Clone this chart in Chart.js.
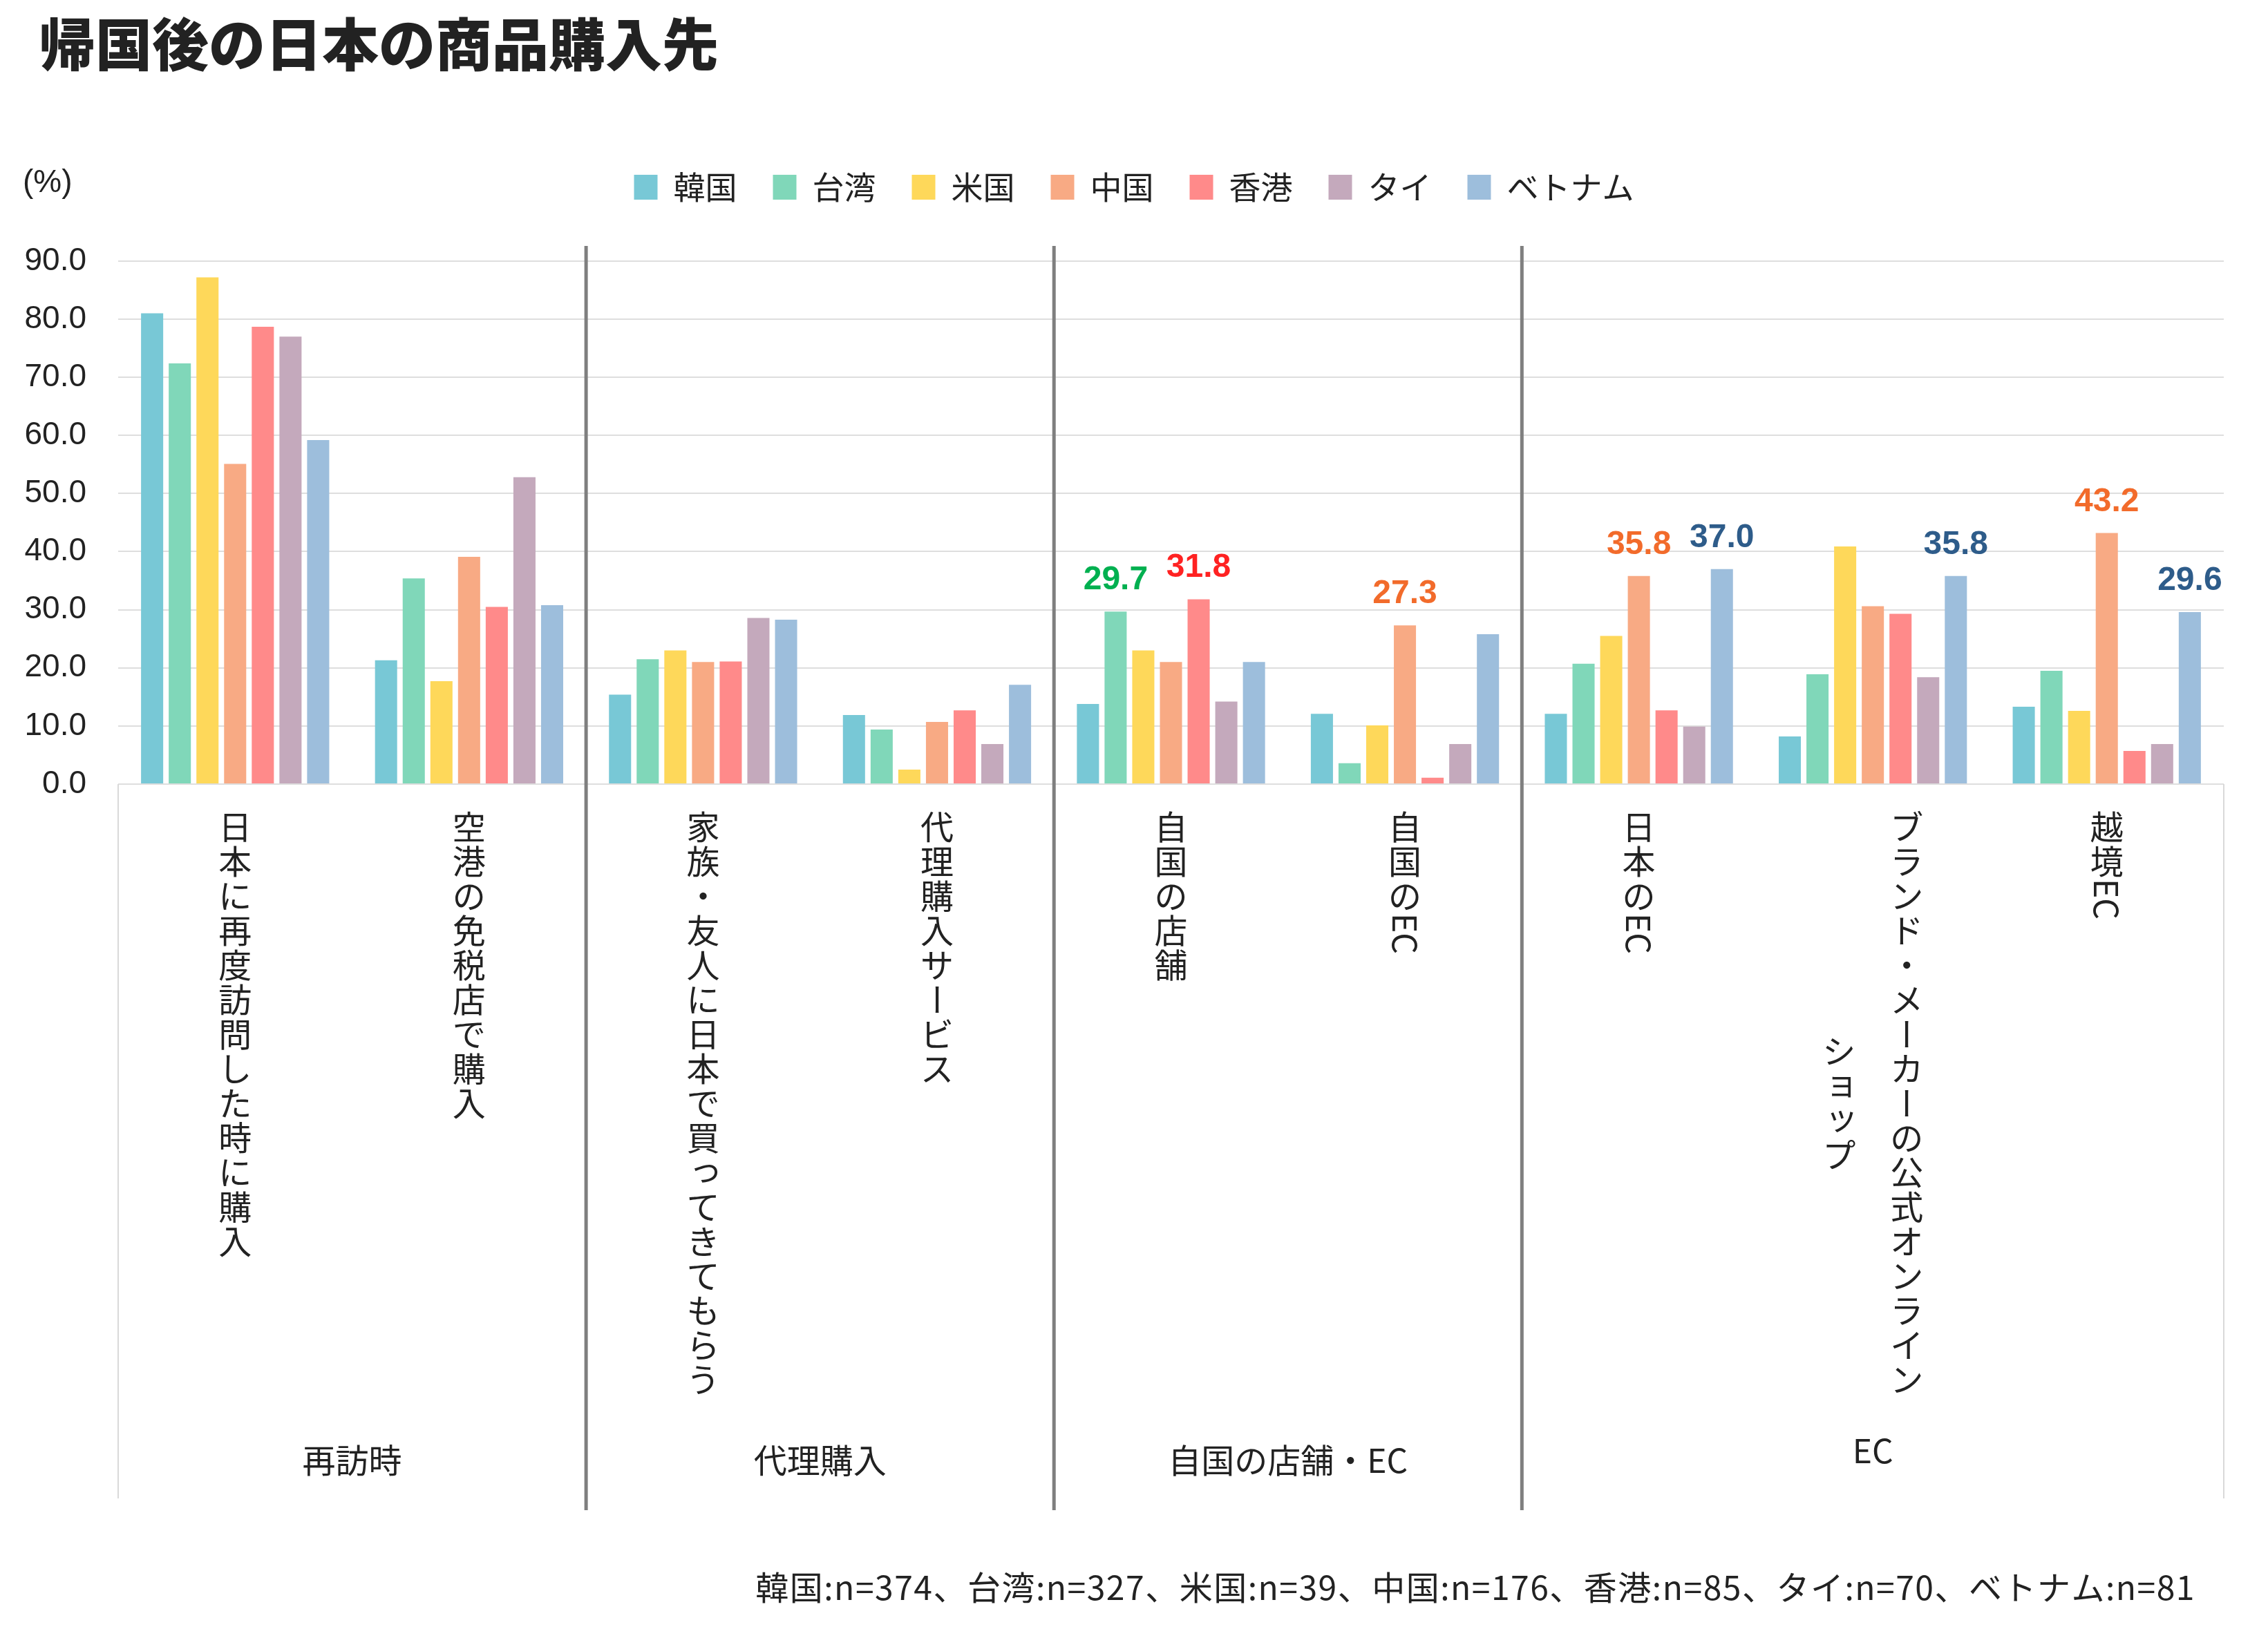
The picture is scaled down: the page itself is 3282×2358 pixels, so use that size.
<!DOCTYPE html>
<html lang="ja">
<head>
<meta charset="utf-8">
<title>帰国後の日本の商品購入先</title>
<script src="https://cdn.jsdelivr.net/npm/chart.js@4.4.1/dist/chart.umd.min.js"></script>
<style>
  html, body { margin: 0; padding: 0; background: #ffffff; }
  #wrap { width: 3282px; height: 2358px; }
</style>
</head>
<body>
<div id="wrap"><canvas id="chart" width="3282" height="2358"></canvas></div>
<script>
// --- DATA ---
const categories = [
  ['日本に再度訪問した時に購入'],
  ['空港の免税店で購入'],
  ['家族・友人に日本で買ってきてもらう'],
  ['代理購入サービス'],
  ['自国の店舗'],
  ['自国のEC'],
  ['日本のEC'],
  ['ブランド・メーカーの公式オンライン', 'ショップ'],
  ['越境EC']
];
const groups = ['再訪時', '代理購入', '自国の店舗・EC', 'EC'];
const groupSpans = [2, 2, 2, 3];
const countries = ['韓国', '台湾', '米国', '中国', '香港', 'タイ', 'ベトナム'];

const korea    = [81.0, 21.3, 15.4, 11.9, 13.8, 12.1, 12.1,  8.2, 13.3];
const taiwan   = [72.4, 35.4, 21.5,  9.4, 29.7,  3.6, 20.7, 18.9, 19.5];
const usa      = [87.2, 17.7, 23.0,  2.5, 23.0, 10.1, 25.5, 40.9, 12.6];
const china    = [55.1, 39.1, 21.0, 10.7, 21.0, 27.3, 35.8, 30.6, 43.2];
const hongkong = [78.7, 30.5, 21.1, 12.7, 31.8,  1.1, 12.7, 29.3,  5.7];
const thai     = [77.0, 52.8, 28.6,  6.9, 14.2,  6.9,  9.9, 18.4,  6.9];
const vietnam  = [59.2, 30.8, 28.3, 17.1, 21.0, 25.8, 37.0, 35.8, 29.6];

const yTicks = [0, 10, 20, 30, 40, 50, 60, 70, 80, 90];

// bars that carry a value label: [country index, category index]
const labeledBars = [[1, 4], [4, 4], [3, 5], [3, 6], [6, 6], [6, 7], [3, 8], [6, 8]];

const sampleNote = '韓国:n=374、台湾:n=327、米国:n=39、中国:n=176、香港:n=85、タイ:n=70、ベトナム:n=81';

// --- STYLE ---
const seriesValues = [korea, taiwan, usa, china, hongkong, thai, vietnam];
const barColors = ['#78c8d6', '#80d7b9', '#fed85a', '#f8aa84', '#ff8a8a', '#c4a9bc', '#9dbedc'];
const valueColors = ['#2e5c8a', '#00b050', '#c09000', '#f26b2b', '#ff2222', '#7a5c72', '#2e5c8a'];
const JP = '"Noto Sans CJK JP", "Noto Sans", sans-serif';
const NUM = '"Liberation Sans", Arial, sans-serif';
const TEXT = '#222222';
const FS = 48;      // vertical label font size
const PITCH = 50;   // vertical advance per character

// draw one vertical column (top to bottom), latin runs turned sideways
function columnLength(ctx, text) {
  let len = 0;
  text.match(/[A-Za-z0-9]+|[^A-Za-z0-9]/g).forEach(run => {
    len += /^[A-Za-z0-9]/.test(run) ? ctx.measureText(run).width : PITCH;
  });
  return len;
}
function drawColumn(ctx, text, cx, top) {
  let y = top;
  text.match(/[A-Za-z0-9]+|[^A-Za-z0-9]/g).forEach(run => {
    if (/^[A-Za-z0-9]/.test(run)) {
      const w = ctx.measureText(run).width;
      ctx.save();
      ctx.translate(cx, y + w / 2);
      ctx.rotate(Math.PI / 2);
      ctx.fillText(run, 0, 0);
      ctx.restore();
      y += w;
    } else if (run === 'ー') {
      ctx.save();
      ctx.translate(cx, y + PITCH / 2);
      ctx.rotate(Math.PI / 2);
      ctx.fillText(run, 0, 0);
      ctx.restore();
      y += PITCH;
    } else {
      const small = 'っッョャュゃゅょ'.includes(run);
      ctx.fillText(run, cx + (small ? FS * 0.08 : 0), y + PITCH / 2 - (small ? FS * 0.1 : 0));
      y += PITCH;
    }
  });
}

const decorPlugin = {
  id: 'decor',
  afterInit(chart) {
    // extra room between legend and plot
    const lg = chart.legend;
    const fit = lg.fit.bind(lg);
    lg.fit = function() { fit(); this.height += 52; };
  },
  afterDatasetsDraw(chart) {
    const ctx = chart.ctx;
    ctx.save();
    ctx.font = `bold 48px ${NUM}`;
    ctx.textAlign = 'center';
    ctx.textBaseline = 'alphabetic';
    labeledBars.forEach(([s, c]) => {
      const bar = chart.getDatasetMeta(s).data[c];
      ctx.fillStyle = valueColors[s];
      ctx.fillText(seriesValues[s][c].toFixed(1), bar.x, bar.y - 32);
    });
    ctx.restore();
  },
  afterDraw(chart) {
    const ctx = chart.ctx;
    const area = chart.chartArea;
    const xs = chart.scales.x;
    ctx.save();

    // title and unit
    ctx.fillStyle = TEXT;
    ctx.textBaseline = 'middle';
    ctx.textAlign = 'left';
    ctx.font = `900 82px ${JP}`;
    ctx.fillText('帰国後の日本の商品購入先', 56, 64);
    ctx.font = `46px ${NUM}`;
    ctx.fillText('(%)', 33, 265);

    // frame under the axis
    const frameBottom = 2169;
    ctx.strokeStyle = '#d9d9d9';
    ctx.lineWidth = 2;
    ctx.beginPath();
    ctx.moveTo(area.left, area.bottom); ctx.lineTo(area.left, frameBottom);
    ctx.moveTo(area.right, area.bottom); ctx.lineTo(area.right, frameBottom);
    ctx.stroke();

    // group separators
    ctx.strokeStyle = '#7f7f7f';
    ctx.lineWidth = 5;
    let k = 0;
    const bounds = [area.left];
    groupSpans.forEach((span, gi) => {
      k += span;
      const x = k < categories.length ? (xs.getPixelForValue(k - 1) + xs.getPixelForValue(k)) / 2 : area.right;
      bounds.push(x);
      if (gi < groupSpans.length - 1) {
        ctx.beginPath();
        ctx.moveTo(x, area.top);
        ctx.lineTo(x, 2186);
        ctx.stroke();
      }
    });

    // category labels, vertical
    ctx.fillStyle = TEXT;
    ctx.font = `${FS}px ${JP}`;
    ctx.textAlign = 'center';
    ctx.textBaseline = 'middle';
    const labelTop = area.bottom + 37;
    categories.forEach((lines, i) => {
      const cx = xs.getPixelForValue(i);
      const lens = lines.map(t => columnLength(ctx, t));
      const maxLen = Math.max(...lens);
      const gap = 98;
      lines.forEach((t, li) => {
        const x = cx + ((lines.length - 1) / 2 - li) * gap;
        drawColumn(ctx, t, x, labelTop + (maxLen - lens[li]) / 2);
      });
    });

    // group labels
    ctx.font = `48px ${JP}`;
    groups.forEach((g, gi) => {
      ctx.fillText(g, (bounds[gi] + bounds[gi + 1]) / 2, gi === groups.length - 1 ? 2100 : 2114);
    });

    // sample sizes
    ctx.font = `48px ${JP}`;
    ctx.letterSpacing = '1.5px';
    ctx.textAlign = 'right';
    ctx.fillText(sampleNote, 3177, 2298);
    ctx.restore();
  }
};

new Chart(document.getElementById('chart'), {
  type: 'bar',
  data: {
    labels: categories.map(c => c.join('')),
    datasets: countries.map((name, i) => ({
      label: name,
      data: seriesValues[i],
      backgroundColor: barColors[i],
      borderWidth: 0,
      categoryPercentage: 0.828,
      barPercentage: 0.8
    }))
  },
  options: {
    responsive: false,
    devicePixelRatio: 1,
    animation: false,
    layout: { padding: { top: 196, right: 0, bottom: 0, left: 0 } },
    plugins: {
      legend: {
        position: 'top',
        labels: {
          font: { family: JP, size: 46 },
          color: TEXT,
          boxWidth: 34,
          boxHeight: 36,
          padding: 52
        }
      },
      tooltip: { enabled: false }
    },
    scales: {
      x: {
        grid: { display: false },
        border: { display: false },
        ticks: { display: false },
        afterFit(scale) { scale.height = 1223; }
      },
      y: {
        min: 0,
        max: 92.6,
        grid: { color: '#dedede', lineWidth: 2, drawTicks: false },
        border: { display: false },
        ticks: {
          padding: 46,
          color: TEXT,
          font: { family: NUM, size: 46 },
          callback: v => v.toFixed(1)
        },
        afterBuildTicks(scale) { scale.ticks = yTicks.map(v => ({ value: v })); },
        afterFit(scale) { scale.width = 171; }
      },
      // empty right margin so the legend centres on the whole canvas
      yr: {
        position: 'right',
        grid: { display: false },
        border: { display: false },
        ticks: { display: false },
        afterFit(scale) { scale.width = 64; }
      }
    }
  },
  plugins: [decorPlugin]
});
</script>
</body>
</html>
